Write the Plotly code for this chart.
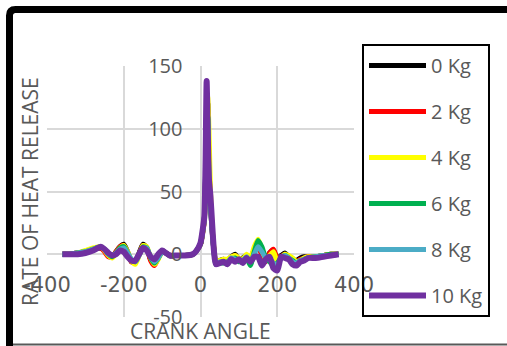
import plotly.graph_objects as go

# ---------------- data ----------------
CRANK_ANGLE = [-360, -340, -320, -300, -280, -260, -250, -240, -230, -220,
               -210, -200, -190, -180, -170, -160, -150, -140, -130, -120,
               -110, -100, -90, -80, -60, -40, -20, -10, 0, 5,
               10, 13, 16, 19, 22, 26, 30, 35, 40, 50,
               60, 70, 80, 90, 100, 110, 120, 130, 140, 150,
               160, 170, 180, 190, 200, 210, 220, 230, 240, 250,
               260, 270, 280, 300, 320, 340, 360]

HR_0KG = [0, 0, 1, 2, 4, 5, 3, -1, -2, 2,
          6, 8, 2, -6, -6, 1, 8, 5, -4, -7,
          -1, 3, 1, -1, -1, -1, 0, 3, 8, 16,
          28, 60, 110, 120, 70, 42, 22, 4, -6, -5,
          -4, -5, -2, 0, -4, -3, -1, -4, 4, 8,
          0, -5, 1, 3, -4, -1, 1, -2, -4, -5,
          -3, -2, -2, -2, -1, 0, 0]

HR_2KG = [0, 0, 1, 2, 4, 5, 2, -2, -2, 2,
          6, 7, 1, -6, -7, 0, 7, 5, -5, -9,
          -3, 2, 1, -1, -1, -1, 0, 3, 8, 16,
          28, 58, 105, 115, 68, 40, 20, 3, -7, -6,
          -5, -5, -3, -1, -5, -4, -2, -5, 3, 7,
          -1, -6, 1, 4, -3, -2, 0, -3, -5, -6,
          -4, -3, -2, -2, -1, 0, 0]

HR_4KG = [0, 0, 1, 3, 5, 6, 3, -1, -3, 1,
          5, 7, 2, -5, -8, -1, 7, 6, -3, -8,
          -4, 2, 1, -1, -1, -1, 0, 3, 8, 16,
          27, 55, 100, 125, 100, 50, 24, 5, -5, -5,
          -4, -4, -2, -1, -3, -4, 0, -3, 6, 12,
          4, -4, -1, 2, -6, -3, 0, -1, -3, -6,
          -5, -3, -2, -2, -1, 0, 0]

HR_6KG = [0, 0, 1, 2, 4, 6, 4, 0, -2, 1,
          5, 6, 1, -5, -6, 0, 6, 5, -3, -7,
          -3, 2, 1, -1, -1, -1, 0, 3, 8, 17,
          28, 58, 100, 110, 55, 38, 20, 3, -8, -7,
          -7, -6, -4, -3, -6, -5, -3, -9, 2, 11,
          6, -3, -6, -9, -7, -3, -1, -3, -5, -7,
          -5, -4, -3, -2, -1, 0, 0]

HR_8KG = [0, 0, 1, 2, 4, 6, 4, 0, -1, 1,
          4, 5, 1, -4, -6, -1, 5, 5, -2, -6,
          -3, 2, 1, -1, -1, -1, 0, 3, 9, 17,
          29, 62, 118, 105, 62, 40, 21, 2, -8, -6,
          -6, -7, -3, -4, -5, -5, -2, -6, 0, 6,
          2, -3, -4, -7, -9, -3, -1, -3, -6, -7,
          -5, -4, -3, -2, -1, -1, 0]

HR_10KG = [0, 0, 0, 1, 3, 6, 4, 1, -1, 0,
           3, 2, -2, -5, -5, 0, 5, 3, -2, -4,
           0, 3, 1, -1, -1, -1, 0, 3, 9, 18,
           30, 70, 138, 95, 60, 46, 26, 3, -8, -7,
           -6, -8, -4, -6, -4, -7, -3, -6, -2, -2,
           -9, -4, -2, -11, -13, -2, -3, -4, -8, -9,
           -6, -5, -3, -3, -2, -1, 0]

SERIES_NAMES = ["0 Kg", "2 Kg", "4 Kg", "6 Kg", "8 Kg", "10 Kg"]
SERIES_VALUES = [HR_0KG, HR_2KG, HR_4KG, HR_6KG, HR_8KG, HR_10KG]
SERIES_COLORS = ["#000000", "#FF0000", "#FFFF00", "#00B050", "#4BACC6", "#7030A0"]

X_TICKS = [-400, -200, 0, 200, 400]
Y_TICKS = [-50, 0, 50, 100, 150]

# ---------------- layout geometry ----------------
W, H = 507, 346
PL, PR, PT, PB = 47, 354, 66, 317  # plot area in px


def px_x(p):
    return (p - PL) / (PR - PL)


def px_y(p):
    return (PB - p) / (PB - PT)


fig = go.Figure()
for name, vals, col in zip(SERIES_NAMES, SERIES_VALUES, SERIES_COLORS):
    fig.add_trace(go.Scatter(
        x=CRANK_ANGLE, y=vals, name=name, mode="lines",
        line=dict(color=col, width=6 if name == "10 Kg" else 5,
                  shape="spline", smoothing=0.6),
        legendgroup=name,
    ))

grey = "#595959"
grid = "#D9D9D9"

fig.update_layout(
    width=W, height=H,
    margin=dict(l=PL, r=W - PR, t=PT, b=H - PB, pad=0),
    paper_bgcolor="white", plot_bgcolor="white",
    font=dict(family="Open Sans", color=grey),
    showlegend=True,
    legend=dict(
        x=px_x(362), y=px_y(44), xanchor="left", yanchor="top",
        bordercolor="black", borderwidth=2, bgcolor="rgba(255,255,255,0)",
        font=dict(family="Open Sans", size=20, color=grey),
        itemwidth=57, tracegroupgap=17, maxheight=300,
    ),
    xaxis=dict(
        range=[-400, 400], tickvals=X_TICKS, ticktext=[str(v) for v in X_TICKS],
        showgrid=True, gridcolor=grid, gridwidth=1.5, zeroline=False,
        showline=False, ticks="", anchor="free", position=0.25,
        tickfont=dict(family="DejaVu Sans", size=21, color=grey),
        ticklabelstandoff=16,
    ),
    yaxis=dict(
        range=[-50, 150], tickvals=Y_TICKS, ticktext=[str(v) for v in Y_TICKS],
        showgrid=True, gridcolor=grid, gridwidth=1.5, zeroline=False,
        showline=False, ticks="", anchor="free", position=0.5,
        tickfont=dict(family="Open Sans", size=20, color=grey),
        ticklabelstandoff=18,
    ),
    annotations=[
        dict(text="RATE OF HEAT RELEASE", xref="paper", yref="paper",
             x=px_x(29.5), y=0.5, xanchor="center", yanchor="middle",
             textangle=-90, showarrow=False,
             font=dict(family="Open Sans", size=21, color=grey)),
        dict(text="CRANK ANGLE", xref="paper", yref="paper",
             x=px_x(200), y=px_y(331), xanchor="center", yanchor="middle",
             showarrow=False,
             font=dict(family="Open Sans", size=21, color=grey)),
    ],
)

# outer thick black frame (left + top, rounded corner) and bottom grey rule
r = 6
c = 9.5
frame_path = (f"M{px_x(c)},{px_y(H + 5)} L{px_x(c)},{px_y(c + r)} "
              f"Q{px_x(c)},{px_y(c)} {px_x(c + r)},{px_y(c)} L{px_x(W + 10)},{px_y(c)}")
fig.add_shape(type="path", path=frame_path, xref="paper", yref="paper",
              line=dict(color="black", width=7), layer="above")
fig.add_shape(type="line", xref="paper", yref="paper",
              x0=px_x(13), x1=px_x(W + 5), y0=px_y(344.5), y1=px_y(344.5),
              line=dict(color=grey, width=2), layer="above")

fig.write_html("out.html")
